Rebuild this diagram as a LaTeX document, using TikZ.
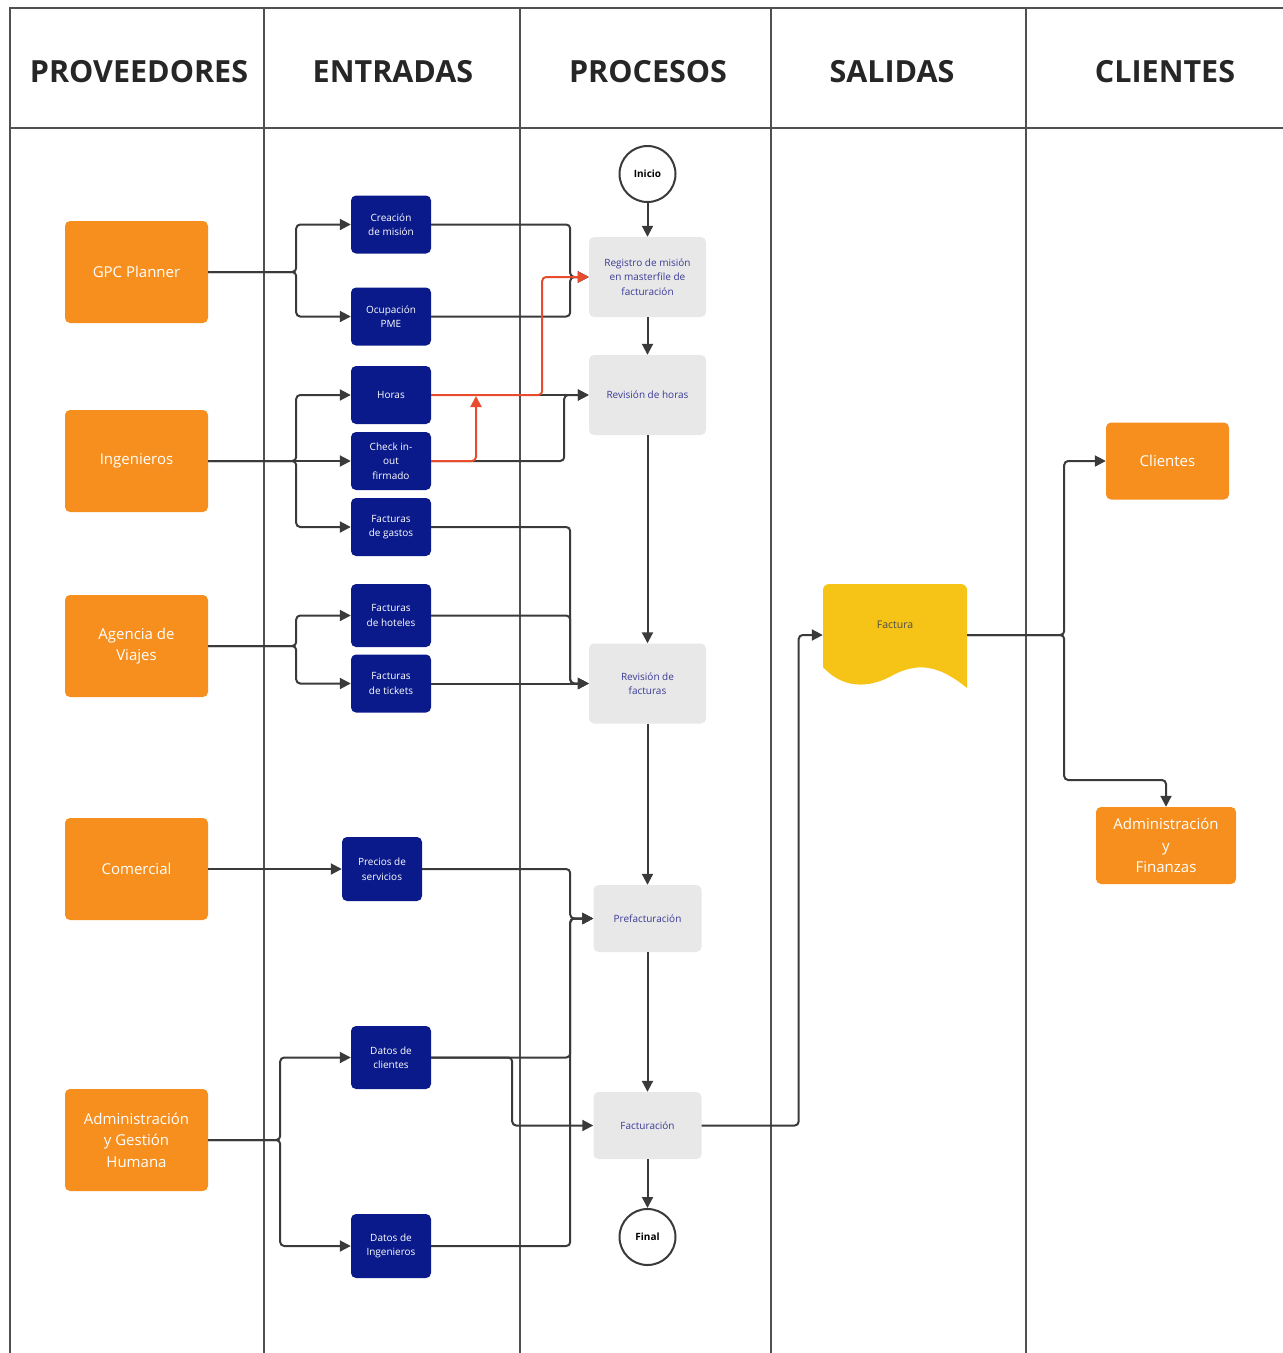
\documentclass[tikz,border=0pt]{standalone}
\usepackage{fontspec}
\setmainfont{Open Sans}
\usetikzlibrary{arrows.meta,positioning}

\definecolor{provOrange}{RGB}{247,143,30}
\definecolor{entryNavy}{RGB}{10,26,138}
\definecolor{procGray}{RGB}{232,232,232}
\definecolor{procText}{RGB}{58,58,150}
\definecolor{docYellow}{RGB}{245,196,22}
\definecolor{lineGray}{RGB}{58,58,58}
\definecolor{frameGray}{RGB}{80,80,80}
\definecolor{redLine}{RGB}{232,76,44}

\tikzset{
  frame/.style={draw=frameGray, line width=1.8pt},
  head/.style={font=\fontsize{30.5}{36}\selectfont\bfseries, text=black!85},
  prov/.style={fill=provOrange, rounded corners=5pt, minimum width=143pt,
    minimum height=102pt, text=white, align=center,
    font=\fontsize{15}{21.5}\selectfont},
  entry/.style={fill=entryNavy, rounded corners=5pt, minimum width=80pt,
    minimum height=58pt, inner sep=0pt, text=white, align=center,
    font=\fontsize{10}{14.5}\selectfont},
  proc/.style={fill=procGray, rounded corners=5pt, minimum width=117pt,
    minimum height=80pt, inner sep=0pt, text=procText, align=center,
    font=\fontsize{10}{14.5}\selectfont},
  term/.style={circle, draw=lineGray, line width=2pt, fill=white,
    minimum size=56pt, inner sep=0pt, font=\fontsize{10}{12}\selectfont\bfseries},
  flow/.style={draw=lineGray, line width=2pt, rounded corners=4pt,
    -{Triangle[length=11pt,width=11pt]}},
  redflow/.style={flow, draw=redLine, -{Triangle[length=11pt,width=11pt,fill=redLine]}},
}

\begin{document}
\begin{tikzpicture}[x=1pt, y=-1pt]
  \useasboundingbox (0,0) rectangle (1283,1353);

  % lanes and header
  \draw[frame] (10,1353) -- (10,8) -- (1283,8);
  \draw[frame] (10,128) -- (1283,128);
  \foreach \x in {264,520,771,1026} {
    \draw[frame] (\x,8) -- (\x,1353);
  }
  \foreach \x/\t in {139/PROVEEDORES, 393/ENTRADAS, 648/PROCESOS, 892/SALIDAS, 1165/CLIENTES} {
    \node[head] (hd\x) at (\x,72) {\t};
  }

  % proveedores
  \node[prov] (gpc) at (136.5,272) {GPC Planner};
  \node[prov] (ing) at (136.5,461) {Ingenieros};
  \node[prov] (agen) at (136.5,646) {Agencia de\\Viajes};
  \node[prov] (com) at (136.5,869) {Comercial};
  \node[prov] (admgh) at (136.5,1140) {Administración\\y Gestión\\Humana};

  % entradas
  \node[entry] (crea) at (391,224.5) {Creación\\de misión};
  \node[entry] (ocup) at (391,316.5) {Ocupación\\PME};
  \node[entry] (horas) at (391,395) {Horas};
  \node[entry] (check) at (391,461) {Check in-\\out\\firmado};
  \node[entry] (gastos) at (391,527) {Facturas\\de gastos};
  \node[entry, minimum height=63pt] (hotel) at (391,615.5) {Facturas\\de hoteles};
  \node[entry] (tick) at (391,683.5) {Facturas\\de tickets};
  \node[entry, minimum height=64pt] (prec) at (382,869) {Precios de\\servicios};
  \node[entry, minimum height=63pt] (dcli) at (391,1057.5) {Datos de\\clientes};
  \node[entry, minimum height=64pt] (ding) at (391,1246) {Datos de\\Ingenieros};

  % procesos
  \node[term] (ini) at (647.5,174) {Inicio};
  \node[proc] (reg) at (647.5,277) {Registro de misión\\en masterfile de\\facturación};
  \node[proc] (revh) at (647.5,395) {Revisión de horas};
  \node[proc] (revf) at (647.5,683.5) {Revisión de\\facturas};
  \node[proc, minimum width=108pt, minimum height=67pt] (pref) at (647.5,918.5) {Prefacturación};
  \node[proc, minimum width=108pt, minimum height=67pt] (fact) at (647.5,1125.5) {Facturación};
  \node[term] (fin) at (647.5,1237) {Final};

  % salidas
  \fill[docYellow] (823,667) [rounded corners=6pt] -- (823,584) -- (967,584)
    [sharp corners] -- (967,688)
    .. controls (940,666) and (920,662) .. (895,674)
    .. controls (868,690) and (842,688) .. (823,667) -- cycle;
  \node[minimum width=144pt, minimum height=102pt,
    label={[font=\fontsize{10.5}{12}\selectfont, text=black!70, yshift=10pt]center:Factura}]
    (factura) at (895,635) {};

  % clientes
  \node[prov, minimum width=123pt, minimum height=77pt] (cli) at (1167.5,461) {Clientes};
  \node[prov, minimum width=140pt, minimum height=77pt] (admfin) at (1166,845.5) {Administración\\y\\Finanzas};

  % proveedores -> entradas
  \draw[flow] (gpc.east) -- ++(88,0) |- (crea.west);
  \draw[flow] (gpc.east) -- ++(88,0) |- (ocup.west);
  \draw[flow] (ing.east) -- ++(88,0) |- (horas.west);
  \draw[flow] (ing.east) -- (check.west);
  \draw[flow] (ing.east) -- ++(88,0) |- (gastos.west);
  \draw[flow] (agen.east) -- ++(88,0) |- (hotel.west);
  \draw[flow] (agen.east) -- ++(88,0) |- (tick.west);
  \draw[flow] (com.east) -- (prec.west);
  \draw[flow] (admgh.east) -- ++(72,0) |- (dcli.west);
  \draw[flow] (admgh.east) -- ++(72,0) |- (ding.west);

  % entradas -> procesos
  \draw[flow] (crea.east) -- ++(139,0) |- (reg.west);
  \draw[flow] (ocup.east) -- ++(139,0) |- (reg.west);
  \draw[flow] (horas.east) -- (revh.west);
  \draw[flow] (check.east) -- ++(133,0) |- (revh.west);
  \draw[flow] (gastos.east) -- ++(139,0) |- (revf.west);
  \draw[flow] (hotel.east) -- ++(139,0) |- (revf.west);
  \draw[flow] (tick.east) -- (revf.west);
  \draw[flow] (prec.east) -- ++(148,0) |- (pref.west);
  \draw[flow] (dcli.east) -- ++(139,0) |- (pref.west);
  \draw[flow] (ding.east) -- ++(139,0) |- (pref.west);
  \draw[flow] (dcli.east) -- ++(81,0) |- (fact.west);

  % red links
  \coordinate (redjoin) at (476,396);
  \draw[redflow] (horas.east) -- ++(111,0) |- (reg.west);
  \draw[redflow] (check.east) -| (redjoin);

  % process chain
  \draw[flow] (ini.south) -- (reg.north);
  \draw[flow] (reg.south) -- (revh.north);
  \draw[flow] (revh.south) -- (revf.north);
  \draw[flow] (revf.south) -- (pref.north);
  \draw[flow] (pref.south) -- (fact.north);
  \draw[flow] (fact.south) -- (fin.north);

  % salidas -> clientes
  \draw[flow] (fact.east) -- ++(97,0) |- (factura.west);
  \draw[flow] (factura.east) -- ++(97,0) |- (cli.west);
  \draw[flow] (factura.east) -- ++(97,0) -- ++(0,145) -| (admfin.north);
\end{tikzpicture}
\end{document}
